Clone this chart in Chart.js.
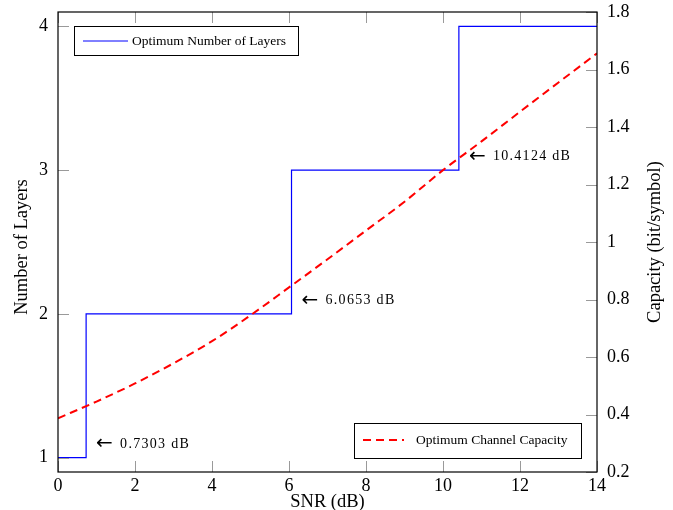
<!DOCTYPE html>
<html>
<head>
<meta charset="utf-8">
<script src="https://cdn.jsdelivr.net/npm/chart.js@4.4.1/dist/chart.umd.min.js"></script>
<style>
    body { margin: 0; background: #fff; }
    canvas { display: block; }
</style>
</head>
<body>
<canvas id="grafico" width="673" height="510"></canvas>
<script>
// Datos
const snrPuntos = [0, 1, 2, 3, 4, 5, 6, 7, 8, 9, 10, 11, 12, 13, 14]
const capacidad = [0.387, 0.445, 0.508, 0.578, 0.655, 0.745, 0.842, 0.94, 1.04, 1.14, 1.25, 1.35, 1.453, 1.555, 1.656]
const snrCambioCapas = [0, 0.7303, 6.0653, 10.4124, 14]
const numeroCapas = [1, 2, 3, 4, 4]
const umbrales = [0.7303, 6.0653, 10.4124]
const ticksX = [0, 2, 4, 6, 8, 10, 12, 14]
const ticksCapas = [1, 2, 3, 4]
const ticksCapacidad = [0.2, 0.4, 0.6, 0.8, 1, 1.2, 1.4, 1.6, 1.8]

const fuente = '"Liberation Serif", "Times New Roman", serif'

// Plugin para marco, ticks internos, leyendas, anotaciones y títulos
const decoracion = {
    id: 'decoracion',
    afterDraw(chart) {
        const ctx = chart.ctx
        const area = chart.chartArea
        const x = chart.scales.x
        const yL = chart.scales.yCapas
        const yR = chart.scales.yCapacidad
        const largo = 11

        ctx.save()
        // ticks hacia adentro
        ctx.strokeStyle = '#9a9a9a'
        ctx.lineWidth = 1
        ctx.beginPath()
        ticksX.forEach(v => {
            const px = Math.round(x.getPixelForValue(v)) + 0.5
            ctx.moveTo(px, area.bottom); ctx.lineTo(px, area.bottom - largo)
            ctx.moveTo(px, area.top); ctx.lineTo(px, area.top + largo)
        })
        ticksCapas.forEach(v => {
            const py = Math.round(yL.getPixelForValue(v)) + 0.5
            ctx.moveTo(area.left, py); ctx.lineTo(area.left + largo, py)
        })
        ticksCapacidad.forEach(v => {
            const py = Math.round(yR.getPixelForValue(v)) + 0.5
            ctx.moveTo(area.right, py); ctx.lineTo(area.right - largo, py)
        })
        ctx.stroke()

        // marco
        ctx.strokeStyle = '#000'
        ctx.lineWidth = 1.2
        ctx.strokeRect(area.left, area.top, area.right - area.left, area.bottom - area.top)

        // anotaciones de umbral
        ctx.fillStyle = '#000'
        ctx.textBaseline = 'middle'
        ctx.textAlign = 'left'
        umbrales.forEach((u, i) => {
            const px = x.getPixelForValue(u) + 10
            const py = yL.getPixelForValue(numeroCapas[i] + 0.1)
            ctx.font = '20px "DejaVu Sans", sans-serif'
            ctx.fillText('\u2190', px, py + 1)
            ctx.font = '14px ' + fuente
            if ('letterSpacing' in ctx) ctx.letterSpacing = '1.3px'
            ctx.fillText(u.toFixed(4) + ' dB', px + 24, py + 1)
            if ('letterSpacing' in ctx) ctx.letterSpacing = '0px'
        })

        // leyenda 1
        ctx.lineWidth = 1
        ctx.fillStyle = '#fff'
        ctx.fillRect(74.5, 26.5, 224, 29)
        ctx.strokeStyle = '#000'
        ctx.strokeRect(74.5, 26.5, 224, 29)
        ctx.strokeStyle = '#0000ff'
        ctx.beginPath()
        ctx.moveTo(83, 41); ctx.lineTo(128, 41)
        ctx.stroke()
        ctx.fillStyle = '#000'
        ctx.font = '13.5px ' + fuente
        ctx.fillText(chart.data.datasets[1].label, 132, 41.5)

        // leyenda 2
        ctx.fillStyle = '#fff'
        ctx.fillRect(354.5, 423.5, 227, 35)
        ctx.strokeStyle = '#000'
        ctx.strokeRect(354.5, 423.5, 227, 35)
        ctx.strokeStyle = '#ff0000'
        ctx.lineWidth = 2
        ctx.setLineDash([8, 5])
        ctx.beginPath()
        ctx.moveTo(363, 440); ctx.lineTo(404, 440)
        ctx.stroke()
        ctx.setLineDash([])
        ctx.fillStyle = '#000'
        ctx.fillText(chart.data.datasets[0].label, 416, 440.5)

        // títulos de ejes
        ctx.font = '18.5px ' + fuente
        ctx.textAlign = 'center'
        ctx.fillText('SNR (dB)', (area.left + area.right) / 2, 502)
        ctx.save()
        ctx.translate(22, 247)
        ctx.rotate(-Math.PI / 2)
        ctx.fillText('Number of Layers', 0, 0)
        ctx.restore()
        ctx.save()
        ctx.translate(655, 242)
        ctx.rotate(-Math.PI / 2)
        ctx.fillText('Capacity (bit/symbol)', 0, 0)
        ctx.restore()
        ctx.restore()
    }
}

const etiquetaTick = {
    font: { family: fuente, size: 18 },
    color: '#000'
}

// quita el relleno extra que Chart.js agrega por las etiquetas
function sinRelleno(s) {
    s.paddingTop = 0
    s.paddingBottom = 0
    s.paddingLeft = 0
    s.paddingRight = 0
}

new Chart(document.getElementById('grafico'), {
    type: 'line',
    data: {
        datasets: [{
            label: 'Optimum Channel Capacity',
            data: snrPuntos.map((s, i) => ({ x: s, y: capacidad[i] })),
            yAxisID: 'yCapacidad',
            borderColor: '#ff0000',
            borderWidth: 2,
            borderDash: [8, 5],
            pointRadius: 0,
            cubicInterpolationMode: 'monotone',
            order: 0
        }, {
            label: 'Optimum Number of Layers',
            data: snrCambioCapas.map((s, i) => ({ x: s, y: numeroCapas[i] })),
            yAxisID: 'yCapas',
            borderColor: '#0000ff',
            borderWidth: 1.2,
            pointRadius: 0,
            stepped: 'before',
            order: 1
        }]
    },
    options: {
        responsive: false,
        animation: false,
        layout: { padding: { top: 12, left: 0, right: 0, bottom: 0 } },
        plugins: {
            legend: { display: false },
            tooltip: { enabled: false }
        },
        scales: {
            x: {
                type: 'linear',
                min: 0,
                max: 14,
                afterBuildTicks: s => { s.ticks = ticksX.map(v => ({ value: v })) },
                afterFit: s => { s.height = 38; sinRelleno(s) },
                grid: { display: false, drawTicks: false },
                border: { display: false },
                ticks: Object.assign({ padding: 3, maxRotation: 0 }, etiquetaTick)
            },
            yCapas: {
                type: 'linear',
                position: 'left',
                min: 0.9,
                max: 4.1,
                afterBuildTicks: s => { s.ticks = ticksCapas.map(v => ({ value: v })) },
                afterFit: s => { s.width = 58; sinRelleno(s) },
                grid: { display: false, drawTicks: false },
                border: { display: false },
                ticks: Object.assign({ padding: 10 }, etiquetaTick)
            },
            yCapacidad: {
                type: 'linear',
                position: 'right',
                min: 0.2,
                max: 1.8,
                afterBuildTicks: s => { s.ticks = ticksCapacidad.map(v => ({ value: v })) },
                afterFit: s => { s.width = 76; sinRelleno(s) },
                grid: { display: false, drawTicks: false },
                border: { display: false },
                ticks: Object.assign({
                    padding: 10,
                    callback: v => String(+v.toFixed(1))
                }, etiquetaTick)
            }
        }
    },
    plugins: [decoracion]
})
</script>
</body>
</html>
